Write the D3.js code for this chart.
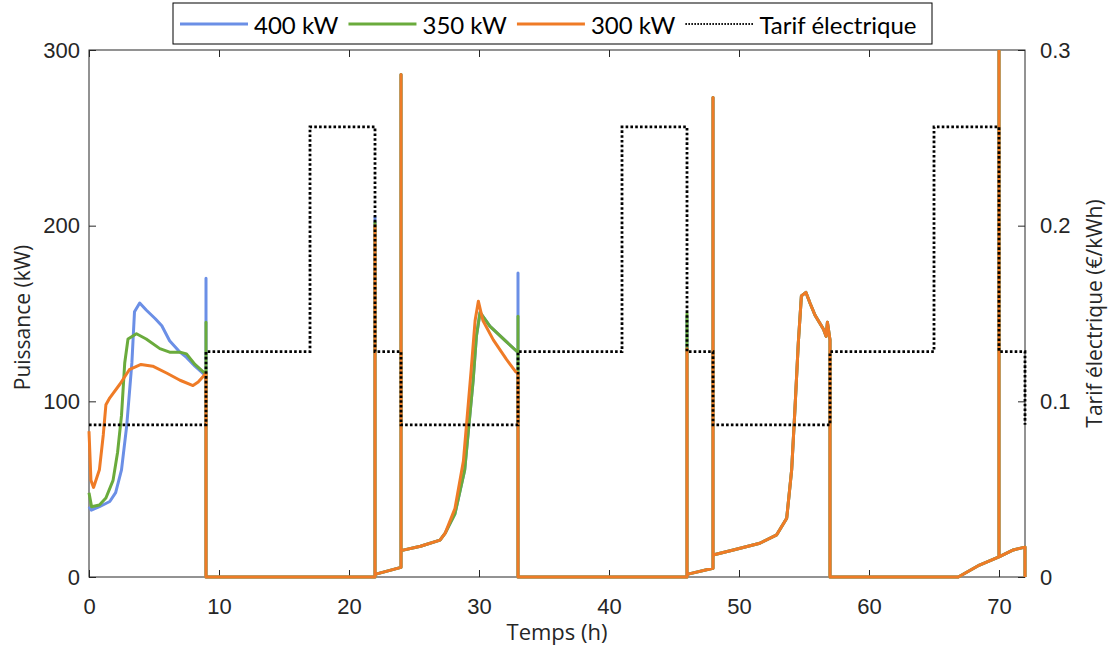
<!DOCTYPE html>
<html><head><meta charset="utf-8">
<script src="https://cdn.jsdelivr.net/npm/d3@7"></script>
<style>body{margin:0;background:#fff}</style>
</head><body>
<svg id="chart" width="1110" height="650"></svg>
<script>
// ---------- data ----------
const xTicks = [0, 10, 20, 30, 40, 50, 60, 70];
const yLeftTicks = [0, 100, 200, 300];
const yRightTicks = [0, 0.1, 0.2, 0.3];
const seriesNames = ["400 kW", "350 kW", "300 kW", "Tarif électrique"];

const hours400 = [0, 0.18, 0.8, 1.6, 2.05, 2.5, 2.9, 3.3, 3.5, 3.9, 4.4, 5.1, 5.6, 6.2, 7.0, 7.5, 8.15, 8.9, 9.0, 9.0, 9.0,
  22.0, 22.0, 22.0, 24.0, 24.0, 24.0, 25.5, 27.0, 27.4, 28.15, 28.9, 29.55, 29.8, 30.08, 30.85, 32.1, 32.9, 33.0, 33.0, 33.0,
  46.0, 46.0, 46.0, 48.0, 48.0, 48.0, 49.56, 51.6, 52.9, 53.67, 54.05, 54.3, 54.56, 54.8, 55.15, 55.46, 55.85, 56.5, 56.7, 56.8, 57.0, 57.0,
  66.87, 68.5, 70.0, 70.0, 70.0, 71.1, 72.0, 72.0];
const power400 = [40, 38, 40, 43, 48, 61, 86, 122, 151, 156, 152, 147, 143, 134.5, 128, 125, 120, 115, 114, 170, 0,
  0, 205, 1.5, 5.5, 286, 15, 17.5, 21, 25, 36, 61, 112, 137, 150.6, 142.7, 134, 128.5, 128, 173, 0,
  0, 148, 1.5, 5, 273, 12.5, 15.4, 19.2, 24, 33.5, 61, 95, 133, 160, 162, 156, 149, 141, 137, 145, 135, 0,
  0, 6.8, 11.5, 300, 11.5, 15.4, 17, 0];

const hours350 = [0, 0.2, 0.8, 1.3, 1.85, 2.2, 2.5, 2.75, 3.0, 3.65, 4.4, 5.45, 6.2, 7.0, 7.5, 8.15, 8.9, 9.0, 9.0, 9.0,
  22.0, 22.0, 22.0, 24.0, 24.0, 24.0, 25.5, 27.0, 27.4, 28.15, 28.9, 29.55, 29.8, 30.08, 30.85, 32.1, 32.9, 33.0, 33.0, 33.0,
  46.0, 46.0, 46.0, 48.0, 48.0, 48.0, 49.56, 51.6, 52.9, 53.67, 54.05, 54.3, 54.56, 54.8, 55.15, 55.46, 55.85, 56.5, 56.7, 56.8, 57.0, 57.0,
  66.87, 68.5, 70.0, 70.0, 70.0, 71.1, 72.0, 72.0];
const power350 = [48, 40, 41, 45, 55, 71, 92, 122, 135.5, 138.5, 135.5, 130, 128, 128, 127, 121, 116, 115, 145, 0,
  0, 202, 1.5, 5.5, 286, 15, 17.5, 21, 25, 36, 61, 112, 137, 150.6, 142.7, 134, 128.5, 128, 148.5, 0,
  0, 150, 1.5, 5, 273, 12.5, 15.4, 19.2, 24, 33.5, 61, 95, 133, 160, 162, 156, 149, 141, 137, 145, 135, 0,
  0, 6.8, 11.5, 300, 11.5, 15.4, 17, 0];

const hours300 = [0, 0.15, 0.35, 0.8, 1.1, 1.3, 1.6, 2.4, 3.1, 4.0, 4.9, 6.0, 7.0, 8.0, 8.4, 9.0, 9.0,
  22.0, 22.0, 22.0, 24.0, 24.0, 24.0, 25.5, 27.0, 27.4, 28.15, 28.8, 29.4, 29.7, 29.95, 30.3, 31.1, 32.1, 32.8, 33.0, 33.0,
  46.0, 46.0, 46.0, 48.0, 48.0, 48.0, 49.56, 51.6, 52.9, 53.67, 54.05, 54.3, 54.56, 54.8, 55.15, 55.46, 55.85, 56.5, 56.7, 56.8, 57.0, 57.0,
  66.87, 68.5, 70.0, 70.0, 70.0, 71.1, 72.0, 72.0];
const power300 = [83, 55, 51, 61, 81, 98, 102, 110, 118, 121, 120, 116, 112, 109, 111, 116, 0,
  0, 200, 1.5, 5.5, 286, 15, 17.5, 21, 25, 39, 66, 118, 146, 157, 146, 135, 124, 117, 116, 0,
  0, 130, 1.5, 5, 273, 12.5, 15.4, 19.2, 24, 33.5, 61, 95, 133, 160, 162, 156, 149, 141, 137, 145, 135, 0,
  0, 6.8, 11.5, 300, 11.5, 15.4, 17, 0];

const tariffHours = [0, 9, 17, 22, 24, 33, 41, 46, 48, 57, 65, 70, 72];
const tariffValues = [0.0866, 0.1283, 0.2562, 0.1283, 0.0866, 0.1283, 0.2562, 0.1283, 0.0866, 0.1283, 0.2562, 0.1283, 0.0866];

// ---------- layout ----------
const colors = ["#6b8fe6", "#6aab3c", "#ef7b26"];
const L = 89, R = 1025, T = 50, B = 577;
const axisColor = "#262626";
const tickFont = "'Liberation Sans', Arial, sans-serif";
const titleFont = "'Open Sans', sans-serif";

const svg = d3.select("#chart");
const x = d3.scaleLinear().domain([0, 72]).range([L, R]);
const yL = d3.scaleLinear().domain([0, 300]).range([B, T]);
const yR = d3.scaleLinear().domain([0, 0.3]).range([B, T]);

svg.append("defs").append("clipPath").attr("id", "clip")
  .append("rect").attr("x", L - 2).attr("y", T).attr("width", R - L + 4).attr("height", B - T + 3);

// frame
svg.append("rect").attr("x", L).attr("y", T).attr("width", R - L).attr("height", B - T)
  .attr("fill", "none").attr("stroke", axisColor).attr("stroke-width", 1);

function styleAxis(g) {
  g.select(".domain").remove();
  g.selectAll(".tick line").attr("stroke", axisColor);
  g.selectAll(".tick text").attr("fill", axisColor).style("font-family", tickFont).style("font-size", "22px");
}
svg.append("g").attr("transform", `translate(0,${B})`)
  .call(d3.axisBottom(x).tickValues(xTicks).tickSizeInner(-7).tickSizeOuter(0).tickPadding(21).tickFormat(d3.format("d")))
  .call(styleAxis);
svg.append("g").attr("transform", `translate(0,${T})`)
  .call(d3.axisTop(x).tickValues(xTicks).tickSizeInner(-7).tickSizeOuter(0).tickFormat(""))
  .call(styleAxis);
svg.append("g").attr("transform", `translate(${L},0)`)
  .call(d3.axisLeft(yL).tickValues(yLeftTicks).tickSizeInner(-7).tickSizeOuter(0).tickPadding(9).tickFormat(d3.format("d")))
  .call(styleAxis);
svg.append("g").attr("transform", `translate(${R},0)`)
  .call(d3.axisRight(yR).tickValues(yRightTicks).tickSizeInner(-7).tickSizeOuter(0).tickPadding(15).tickFormat(d => d === 0 ? "0" : d3.format(".1f")(d)))
  .call(styleAxis);

// series
const series = [
  {h: hours400, p: power400},
  {h: hours350, p: power350},
  {h: hours300, p: power300}
];
const plot = svg.append("g").attr("clip-path", "url(#clip)");
const line = d3.line().x(d => x(d[0])).y(d => yL(d[1]));
series.forEach((s, i) => {
  plot.append("path").datum(s.h.map((t, k) => [t, s.p[k]]))
    .attr("d", line).attr("fill", "none").attr("stroke", colors[i])
    .attr("stroke-width", 3).attr("stroke-linejoin", "round");
});
const tLine = d3.line().x(d => x(d[0])).y(d => yR(d[1])).curve(d3.curveStepAfter);
plot.append("path").datum(tariffHours.map((t, k) => [t, tariffValues[k]]))
  .attr("d", tLine).attr("fill", "none").attr("stroke", "#000")
  .attr("stroke-width", 2.8).attr("stroke-dasharray", "2.6,2.2");

// axis titles
svg.append("text").attr("x", (L + R) / 2).attr("y", 640).attr("text-anchor", "middle")
  .style("font-family", titleFont).style("font-size", "22px").attr("fill", axisColor).text("Temps (h)");
svg.append("text").attr("transform", `translate(22,${(T + B) / 2 + 4}) rotate(-90)`).attr("text-anchor", "middle")
  .attr("dominant-baseline", "central")
  .style("font-family", titleFont).style("font-size", "21px").attr("fill", axisColor).text("Puissance (kW)");
svg.append("text").attr("transform", `translate(1094,${(T + B) / 2}) rotate(-90)`).attr("text-anchor", "middle")
  .attr("dominant-baseline", "central")
  .style("font-family", titleFont).style("font-size", "21px").attr("fill", axisColor).text("Tarif électrique (€/kWh)");

// legend
const lg = svg.append("g");
const box = lg.append("rect").attr("x", 173).attr("y", 3).attr("width", 759).attr("height", 41)
  .attr("fill", "#fff").attr("stroke", "#000").attr("stroke-width", 1);
let cx = 180;
const legendY = 24;
seriesNames.forEach((name, i) => {
  const ln = lg.append("line").attr("x1", cx).attr("x2", cx + 68).attr("y1", legendY).attr("y2", legendY);
  if (i < 3) ln.attr("stroke", colors[i]).attr("stroke-width", 3);
  else ln.attr("stroke", "#000").attr("stroke-width", 2).attr("stroke-dasharray", "1.5,1.5");
  const tx = lg.append("text").attr("x", cx + 74).attr("y", legendY).attr("dominant-baseline", "central")
    .style("font-family", "Lato, sans-serif").style("font-size", "24px").attr("fill", "#000").text(name);
  cx += 74 + tx.node().getComputedTextLength() + 10;
});
</script>
</body></html>
